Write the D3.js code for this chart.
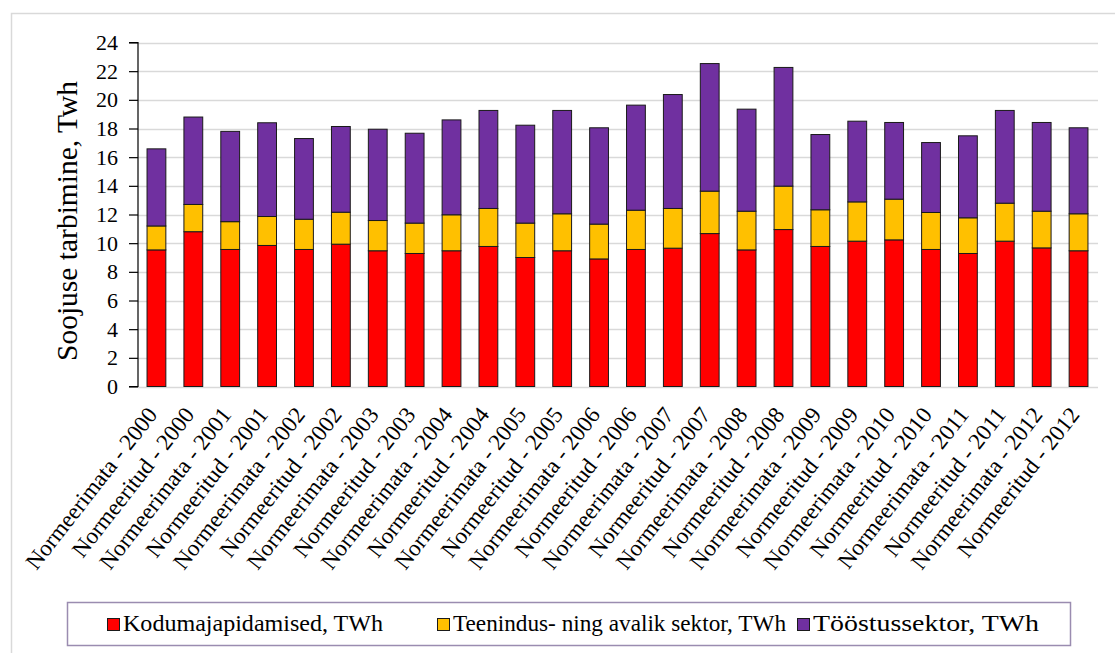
<!DOCTYPE html>
<html>
<head>
<meta charset="utf-8">
<script src="https://cdn.jsdelivr.net/npm/d3@7"></script>
<style>
  html, body { margin: 0; padding: 0; background: #fff; }
  svg { display: block; }
  svg text { font-family: "Liberation Serif", "DejaVu Serif", "Noto Serif", Tinos, serif; fill: #000; }
</style>
</head>
<body>
<svg id="chart" width="1115" height="653"></svg>
<script>
// Heat consumption by sector, unnormalised vs normalised, 2000–2012 (TWh)
const categories = [
  "Normeerimata - 2000", "Normeeritud - 2000",
  "Normeerimata - 2001", "Normeeritud - 2001",
  "Normeerimata - 2002", "Normeeritud - 2002",
  "Normeerimata - 2003", "Normeeritud - 2003",
  "Normeerimata - 2004", "Normeeritud - 2004",
  "Normeerimata - 2005", "Normeeritud - 2005",
  "Normeerimata - 2006", "Normeeritud - 2006",
  "Normeerimata - 2007", "Normeeritud - 2007",
  "Normeerimata - 2008", "Normeeritud - 2008",
  "Normeerimata - 2009", "Normeeritud - 2009",
  "Normeerimata - 2010", "Normeeritud - 2010",
  "Normeerimata - 2011", "Normeeritud - 2011",
  "Normeerimata - 2012", "Normeeritud - 2012"
];

// Households
const kodumajapidamised = [
  9.53, 10.80, 9.56, 9.84, 9.56, 9.93, 9.47, 9.28, 9.47, 9.77,
  9.00, 9.47, 8.90, 9.56, 9.65, 10.67, 9.53, 10.95, 9.77, 10.14,
  10.23, 9.56, 9.28, 10.14, 9.67, 9.47
];
// Services and public sector
const teenindus = [
  1.67, 1.90, 1.94, 2.02, 2.11, 2.23, 2.11, 2.12, 2.51, 2.65,
  2.40, 2.58, 2.43, 2.74, 2.77, 2.96, 2.70, 3.03, 2.56, 2.74,
  2.84, 2.58, 2.49, 2.65, 2.56, 2.58
];
// Industry
const toostus = [
  5.38, 6.10, 6.30, 6.54, 5.63, 5.98, 6.37, 6.27, 6.62, 6.84,
  6.83, 7.21, 6.72, 7.33, 7.95, 8.90, 7.12, 8.28, 5.25, 5.63,
  5.35, 4.88, 5.72, 6.47, 6.19, 6.00
];

const seriesNames = [
  "Kodumajapidamised, TWh",
  "Teenindus- ning avalik sektor, TWh",
  "Tööstussektor, TWh"
];
const seriesColors = ["#ff0000", "#ffc000", "#7030a0"];
const yTicks = [0, 2, 4, 6, 8, 10, 12, 14, 16, 18, 20, 22, 24];
const yTitle = "Soojuse tarbimine, Twh";

const FONT = "'Liberation Serif', 'DejaVu Serif', 'Noto Serif', Tinos, serif";

const svg = d3.select("#chart").attr("font-family", FONT);

// Outer chart frame
svg.append("rect")
  .attr("x", 11.5).attr("y", 13.5)
  .attr("width", 1120).attr("height", 660)
  .attr("fill", "none").attr("stroke", "#d9d9d9").attr("stroke-width", 1.5);

const plot = { left: 138, right: 1097, top: 42.5, bottom: 386.5 };

const x = d3.scaleBand()
  .domain(categories)
  .range([plot.left, plot.right])
  .paddingInner(0.49)
  .paddingOuter(0.245);

const y = d3.scaleLinear()
  .domain([0, 24])
  .range([plot.bottom, plot.top]);

// Horizontal gridlines
svg.append("g")
  .selectAll("line")
  .data(yTicks)
  .join("line")
  .attr("x1", plot.left).attr("x2", plot.right + 1)
  .attr("y1", d => Math.round(y(d)) + 0.5)
  .attr("y2", d => Math.round(y(d)) + 0.5)
  .attr("stroke", "#d9d9d9").attr("stroke-width", 1.5);

// Stacked bars
const rows = categories.map((c, i) => ({
  cat: c, s0: kodumajapidamised[i], s1: teenindus[i], s2: toostus[i]
}));
const stack = d3.stack().keys(["s0", "s1", "s2"]);
const layers = stack(rows);

svg.append("g")
  .selectAll("g")
  .data(layers)
  .join("g")
  .attr("fill", (d, i) => seriesColors[i])
  .selectAll("rect")
  .data(d => d)
  .join("rect")
  .attr("x", d => x(d.data.cat))
  .attr("width", x.bandwidth())
  .attr("y", d => y(d[1]))
  .attr("height", d => y(d[0]) - y(d[1]))
  .attr("stroke", "#1a1a1a")
  .attr("stroke-width", 1);

// Y axis
const yAxis = d3.axisLeft(y)
  .tickValues(yTicks)
  .tickSize(9)
  .tickPadding(11)
  .tickFormat(d3.format("d"));

const yg = svg.append("g")
  .attr("transform", `translate(${plot.left},0)`)
  .call(yAxis)
  .attr("font-family", FONT)
  .attr("font-size", 22);
yg.select(".domain").attr("stroke", "#000").attr("stroke-width", 1.2)
  .attr("d", `M-9,${plot.top}H0V${plot.bottom}H-9`);
yg.selectAll(".tick line").attr("stroke", "#000").attr("stroke-width", 1.2);
yg.selectAll(".tick text").attr("fill", "#000");

// Y title
svg.append("text")
  .attr("transform", "translate(77,221) rotate(-90)")
  .attr("text-anchor", "middle")
  .attr("font-size", 29.5)
  .text(yTitle);

// X labels, slanted
svg.append("g")
  .selectAll("text")
  .data(categories)
  .join("text")
  .attr("transform", d => `translate(${x(d) + x.bandwidth() / 2 + 2},415) rotate(-52)`)
  .attr("text-anchor", "end")
  .attr("font-size", 23)
  .text(d => d);

// Legend
const legendBox = { x: 67.5, y: 602.5, w: 1003, h: 43 };
svg.append("rect")
  .attr("x", legendBox.x).attr("y", legendBox.y)
  .attr("width", legendBox.w).attr("height", legendBox.h)
  .attr("fill", "#fff").attr("stroke", "#9a8cb0").attr("stroke-width", 1.5);

const legendX = [107, 437, 797];
const legendTextLen = [260, 333, 226];
const lg = svg.append("g")
  .selectAll("g")
  .data(seriesNames)
  .join("g")
  .attr("transform", (d, i) => `translate(${legendX[i]},618)`);
lg.append("rect")
  .attr("x", 0.5).attr("y", 0.5)
  .attr("width", 12).attr("height", 12)
  .attr("fill", (d, i) => seriesColors[i])
  .attr("stroke", "#1a1a1a").attr("stroke-width", 1);
lg.append("text")
  .attr("x", 16).attr("y", 13)
  .attr("font-size", 23)
  .attr("textLength", (d, i) => legendTextLen[i])
  .attr("lengthAdjust", "spacingAndGlyphs")
  .text(d => d);
</script>
</body>
</html>
